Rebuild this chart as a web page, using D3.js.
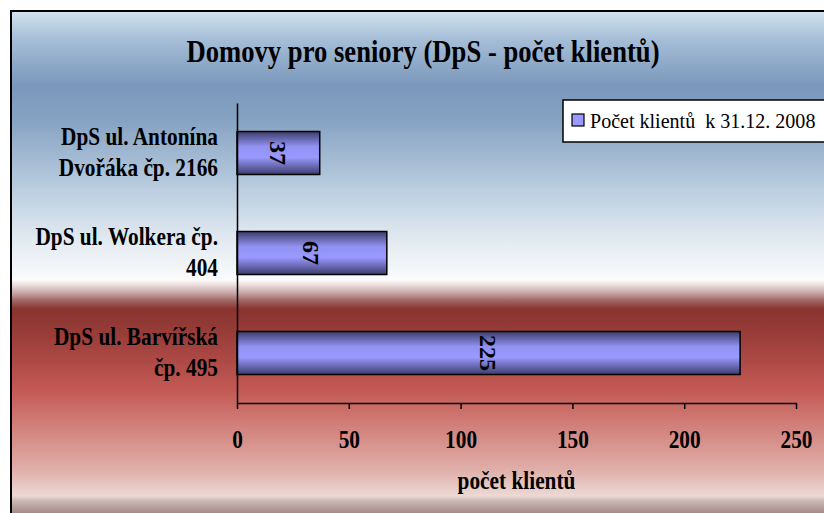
<!DOCTYPE html>
<html>
<head>
<meta charset="utf-8">
<script src="https://cdn.jsdelivr.net/npm/d3@7"></script>
<style>
    html, body { margin: 0; padding: 0; background: #fff; }
    svg { display: block; }
    text { font-family: "Liberation Serif", "Times New Roman", serif; fill: #000; }
</style>
</head>
<body>
<div id="chart"></div>
<script>
// data (top to bottom as drawn)
const categories = ["DpS ul. Antonína Dvořáka čp. 2166", "DpS ul. Wolkera čp. 404", "DpS ul. Barvířská čp. 495"];
const values = [37, 67, 225];
const seriesName = "Počet klientů  k 31.12. 2008";
const xTicks = [0, 50, 100, 150, 200, 250];
const chartTitle = "Domovy pro seniory (DpS - počet klientů)";
const xTitle = "počet klientů";

const W = 824, H = 513;
const squeeze = 0.82; // the original text is narrow, like a squashed Times

const margin = { top: 103, left: 237, right: 28, bottom: 110 };
const plotW = W - margin.left - margin.right;
const plotH = H - margin.top - margin.bottom;

const svg = d3.select("#chart").append("svg")
    .attr("width", W)
    .attr("height", H);

const defs = svg.append("defs");

// stepped Excel-ish background, blue top, white band, red bottom
const bgStops = [
    [11, "#d3e2ef"], [40, "#a5bdd6"], [85, "#7b98bc"], [120, "#86a2c2"],
    [180, "#b4c8dc"], [240, "#e2eaf1"], [280, "#fbfbfc"], [284, "#efe3e2"],
    [293, "#c6a6a5"], [301, "#9d6360"], [309, "#893430"], [340, "#9d3f3b"],
    [390, "#c45954"], [430, "#d3847e"], [470, "#e0afa9"], [496, "#ecd9d5"],
    [501, "#c9b8b4"], [513, "#a78b87"]
];
const bg = defs.append("linearGradient")
    .attr("id", "bg")
    .attr("gradientUnits", "userSpaceOnUse")
    .attr("x1", 0).attr("y1", 11).attr("x2", 0).attr("y2", 513);
bg.selectAll("stop").data(bgStops).enter().append("stop")
    .attr("offset", d => (d[0] - 11) / (513 - 11))
    .attr("stop-color", d => d[1]);

const barGrad = defs.append("linearGradient")
    .attr("id", "barfill")
    .attr("x1", 0).attr("y1", 0).attr("x2", 0).attr("y2", 1);
barGrad.selectAll("stop")
    .data([[0, "#3d3d6c"], [0.35, "#9292f2"], [0.6, "#9999ff"], [1, "#3d3d6c"]])
    .enter().append("stop")
    .attr("offset", d => d[0])
    .attr("stop-color", d => d[1]);

// chart frame
svg.append("rect")
    .attr("x", 11).attr("y", 11)
    .attr("width", W + 20).attr("height", H + 20)
    .attr("fill", "url(#bg)")
    .attr("stroke", "#000")
    .attr("stroke-width", 2);

// helper: narrow text through a horizontal scale
function putText(parent, x, y, str, size, anchor, weight, sx) {
    return parent.append("text")
        .attr("transform", `translate(${x},${y}) scale(${sx},1)`)
        .attr("text-anchor", anchor)
        .style("font-size", size + "px")
        .style("font-weight", weight)
        .style("white-space", "pre")
        .text(str);
}

putText(svg, 423, 62, chartTitle, 32.5, "middle", "bold", squeeze);

// scales
const xScale = d3.scaleLinear()
    .domain([0, 250])
    .range([margin.left, margin.left + plotW]);

const yScale = d3.scaleBand()
    .domain(categories)
    .range([margin.top, margin.top + plotH])
    .paddingInner(0.57)
    .paddingOuter(0.285);

const plot = svg.append("g").attr("class", "plot");

// bars
plot.selectAll(".bar")
    .data(categories)
    .enter().append("rect")
    .attr("class", "bar")
    .attr("x", xScale(0))
    .attr("y", d => yScale(d))
    .attr("width", (d, i) => xScale(values[i]) - xScale(0))
    .attr("height", yScale.bandwidth())
    .attr("fill", "url(#barfill)")
    .attr("stroke", "#000")
    .attr("stroke-width", 1.5);

// value labels, rotated inside the bars
plot.selectAll(".val")
    .data(categories)
    .enter().append("text")
    .attr("class", "val")
    .attr("transform", (d, i) => {
        let cx = (xScale(0) + xScale(values[i])) / 2;
        let cy = yScale(d) + yScale.bandwidth() / 2;
        return `translate(${cx},${cy}) rotate(90)`;
    })
    .attr("text-anchor", "middle")
    .attr("dy", "0.35em")
    .style("font-size", "24px")
    .style("font-weight", "bold")
    .text((d, i) => values[i]);

// x axis
const xAxis = d3.axisBottom(xScale)
    .tickValues(xTicks)
    .tickSize(6)
    .tickSizeOuter(0)
    .tickFormat(d3.format("d"));

const xg = svg.append("g")
    .attr("class", "axis x-axis")
    .attr("transform", `translate(0,${margin.top + plotH})`)
    .call(xAxis);
xg.select(".domain").attr("stroke", "#000").attr("stroke-width", 1.5);
xg.selectAll(".tick line").attr("stroke", "#000").attr("stroke-width", 1.5);
xg.selectAll(".tick text").remove();
xg.selectAll(".tick").each(function(d) {
    putText(d3.select(this), 0, 45, d3.format("d")(d), 26, "middle", "bold", squeeze);
});

// y axis: plain line, no ticks
const yAxis = d3.axisLeft(yScale).tickSize(0).tickSizeOuter(0).tickFormat("");
const yg = svg.append("g")
    .attr("class", "axis y-axis")
    .attr("transform", `translate(${margin.left},0)`)
    .call(yAxis);
yg.select(".domain").attr("stroke", "#000").attr("stroke-width", 1.5);

// category labels, wrapped, right aligned
const measure = svg.append("text")
    .style("font-size", "26px").style("font-weight", "bold")
    .attr("visibility", "hidden");
function textW(s) { measure.text(s); return measure.node().getComputedTextLength() * squeeze; }

function wrap(label, maxW) {
    let words = label.split(" ");
    let lines = [];
    let line = "";
    words.forEach(w => {
        let test = line ? line + " " + w : w;
        if (line && textW(test) > maxW) {
            lines.push(line);
            line = w;
        } else {
            line = test;
        }
    });
    if (line) lines.push(line);
    return lines;
}

const lineH = 31;
categories.forEach(c => {
    let lines = wrap(c, 190);
    let cy = yScale(c) + yScale.bandwidth() / 2;
    let first = cy - (lines.length - 1) * lineH / 2 + 7;
    lines.forEach((ln, k) => {
        putText(svg, 218, first + k * lineH, ln, 26, "end", "bold", squeeze);
    });
});
measure.remove();

// axis title
putText(svg, (xScale(0) + xScale(250)) / 2, 489, xTitle, 26, "middle", "bold", squeeze);

// legend
const legend = svg.append("g").attr("class", "legend");
legend.append("rect")
    .attr("x", 563).attr("y", 100)
    .attr("width", 300).attr("height", 42)
    .attr("fill", "#fff")
    .attr("stroke", "#000")
    .attr("stroke-width", 1.5);
legend.append("rect")
    .attr("x", 572).attr("y", 114)
    .attr("width", 12).attr("height", 12)
    .attr("fill", "#9999ff")
    .attr("stroke", "#000")
    .attr("stroke-width", 1.2);
putText(legend, 590, 128, seriesName, 21, "start", "normal", 0.955);
</script>
</body>
</html>
